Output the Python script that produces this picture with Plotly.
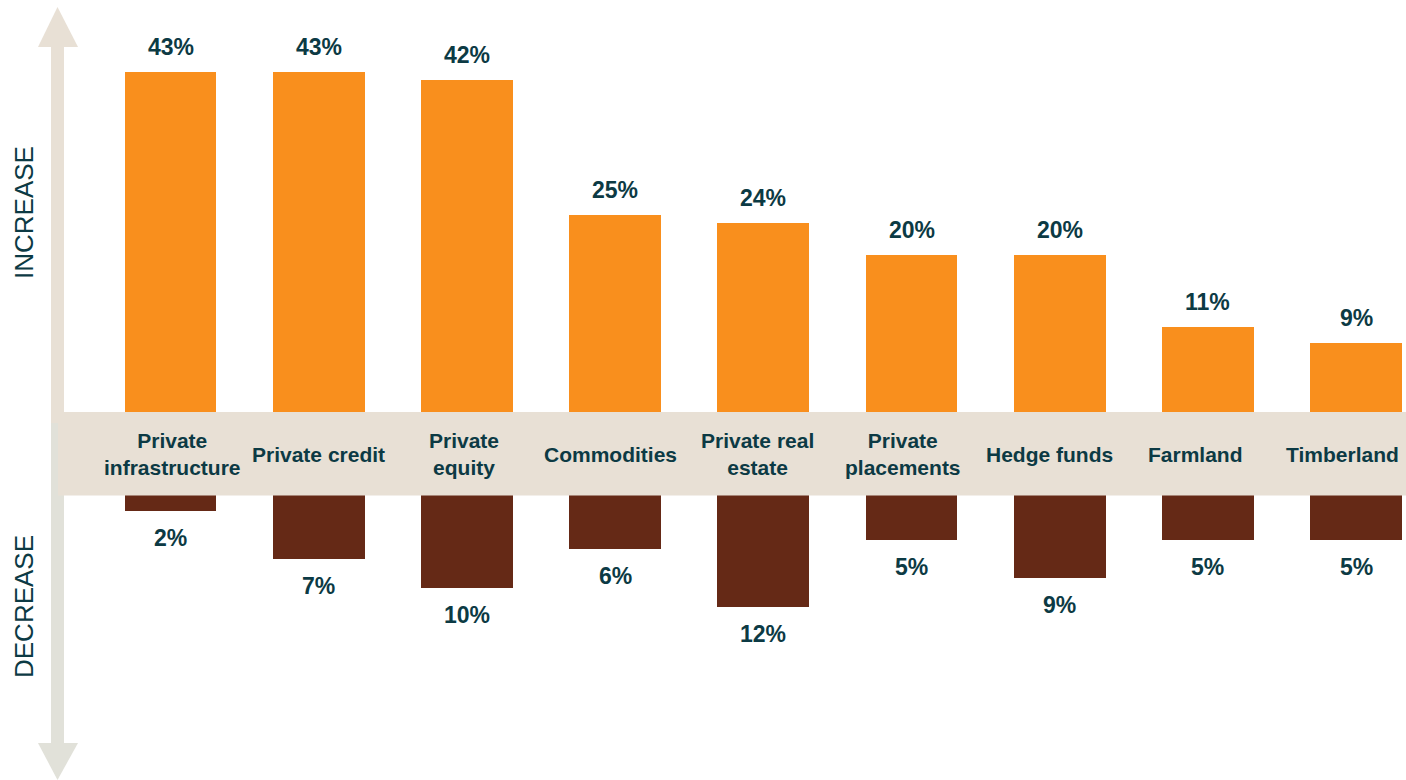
import plotly.graph_objects as go

# Survey: expected change in allocation by asset class
categories = ["Private<br>infrastructure", "Private credit", "Private<br>equity",
              "Commodities", "Private real<br>estate", "Private<br>placements",
              "Hedge funds", "Farmland", "Timberland"]
increase = [43, 43, 42, 25, 24, 20, 20, 11, 9]
decrease = [2, 7, 10, 6, 12, 5, 9, 5, 5]

W, H = 1406, 780
ORANGE = "#F98F1D"
BROWN = "#652916"
TEXT = "#0C3A44"
BAND = "#E8E0D5"
ARROW_UP = "#E8E0D5"
ARROW_DOWN = "#E1E1D9"
FONT = "Arial, Liberation Sans, sans-serif"

x = list(range(len(categories)))

# bar slots: first centre at 170.5 px, 148.2 px apart
SLOT0, SLOT = 170.5, 148.2
# band labels sit on a slightly tighter pitch so the last one fits
LABEL0, LABEL_STEP = 172.0, 146.25

fig = go.Figure()
fig.add_trace(go.Bar(x=x, y=increase, width=0.62, marker_color=ORANGE,
                     marker_line_width=0, yaxis="y", hoverinfo="skip"))
fig.add_trace(go.Bar(x=x, y=[-v for v in decrease], width=0.62, marker_color=BROWN,
                     marker_line_width=0, yaxis="y2", hoverinfo="skip"))


def px_x(p):
    return p / W


def px_y(p):
    return 1 - p / H


shapes = []
# category band across the middle
shapes.append(dict(type="rect", xref="paper", yref="paper", layer="above",
                   x0=px_x(58), x1=1, y0=px_y(495.5), y1=px_y(412),
                   fillcolor=BAND, line_width=0))
# upward arrow
shapes.append(dict(type="rect", xref="paper", yref="paper", layer="above",
                   x0=px_x(51), x1=px_x(64), y0=px_y(423), y1=px_y(46),
                   fillcolor=ARROW_UP, line_width=0))
shapes.append(dict(type="path", xref="paper", yref="paper", layer="above",
                   path=f"M {px_x(38)},{px_y(47)} L {px_x(57.5)},{px_y(7)} L {px_x(78)},{px_y(47)} Z",
                   fillcolor=ARROW_UP, line_width=0))
# downward arrow
shapes.append(dict(type="rect", xref="paper", yref="paper", layer="above",
                   x0=px_x(51), x1=px_x(64), y0=px_y(745), y1=px_y(423),
                   fillcolor=ARROW_DOWN, line_width=0))
shapes.append(dict(type="rect", xref="paper", yref="paper", layer="above",
                   x0=px_x(58), x1=px_x(64), y0=px_y(495.5), y1=px_y(423),
                   fillcolor=BAND, line_width=0))
shapes.append(dict(type="path", xref="paper", yref="paper", layer="above",
                   path=f"M {px_x(38)},{px_y(743)} L {px_x(57.5)},{px_y(780)} L {px_x(78)},{px_y(743)} Z",
                   fillcolor=ARROW_DOWN, line_width=0))

annotations = []
for i, v in enumerate(increase):
    annotations.append(dict(x=i, y=v, xref="x", yref="y", text=f"<b>{v}%</b>",
                            showarrow=False, yanchor="bottom", yshift=10,
                            font=dict(family=FONT, size=23, color=TEXT)))
for i, v in enumerate(decrease):
    annotations.append(dict(x=i, y=-v, xref="x", yref="y2", text=f"<b>{v}%</b>",
                            showarrow=False, yanchor="top", yshift=-12,
                            font=dict(family=FONT, size=23, color=TEXT)))
for i, c in enumerate(categories):
    annotations.append(dict(x=px_x(LABEL0 + LABEL_STEP * i), y=px_y(454),
                            xref="paper", yref="paper", text=f"<b>{c}</b>",
                            showarrow=False, xanchor="center", yanchor="middle",
                            font=dict(family=FONT, size=21, color=TEXT)))
annotations.append(dict(x=px_x(24), y=px_y(213), xref="paper", yref="paper",
                        text="INCREASE", textangle=-90, showarrow=False,
                        xanchor="center", yanchor="middle",
                        font=dict(family=FONT, size=26, color=TEXT)))
annotations.append(dict(x=px_x(24), y=px_y(607), xref="paper", yref="paper",
                        text="DECREASE", textangle=-90, showarrow=False,
                        xanchor="center", yanchor="middle",
                        font=dict(family=FONT, size=26, color=TEXT)))

# increase axis: zero at 414.7 px, 7.97 px per point
up_scale, up_zero = 7.97, 414.7
# decrease axis: zero at 491.8 px, 9.6 px per point
dn_scale, dn_zero = 9.6, 491.8

fig.update_layout(
    width=W, height=H,
    margin=dict(l=0, r=0, t=0, b=0),
    paper_bgcolor="white", plot_bgcolor="white",
    showlegend=False,
    xaxis=dict(range=[-SLOT0 / SLOT, (W - SLOT0) / SLOT], visible=False, fixedrange=True),
    yaxis=dict(range=[-(H - up_zero) / up_scale, up_zero / up_scale], visible=False,
               domain=[0, 1]),
    yaxis2=dict(range=[-(H - dn_zero) / dn_scale, dn_zero / dn_scale], visible=False,
                overlaying="y"),
    shapes=shapes,
    annotations=annotations,
    bargap=0,
)

fig.write_html("out.html")
